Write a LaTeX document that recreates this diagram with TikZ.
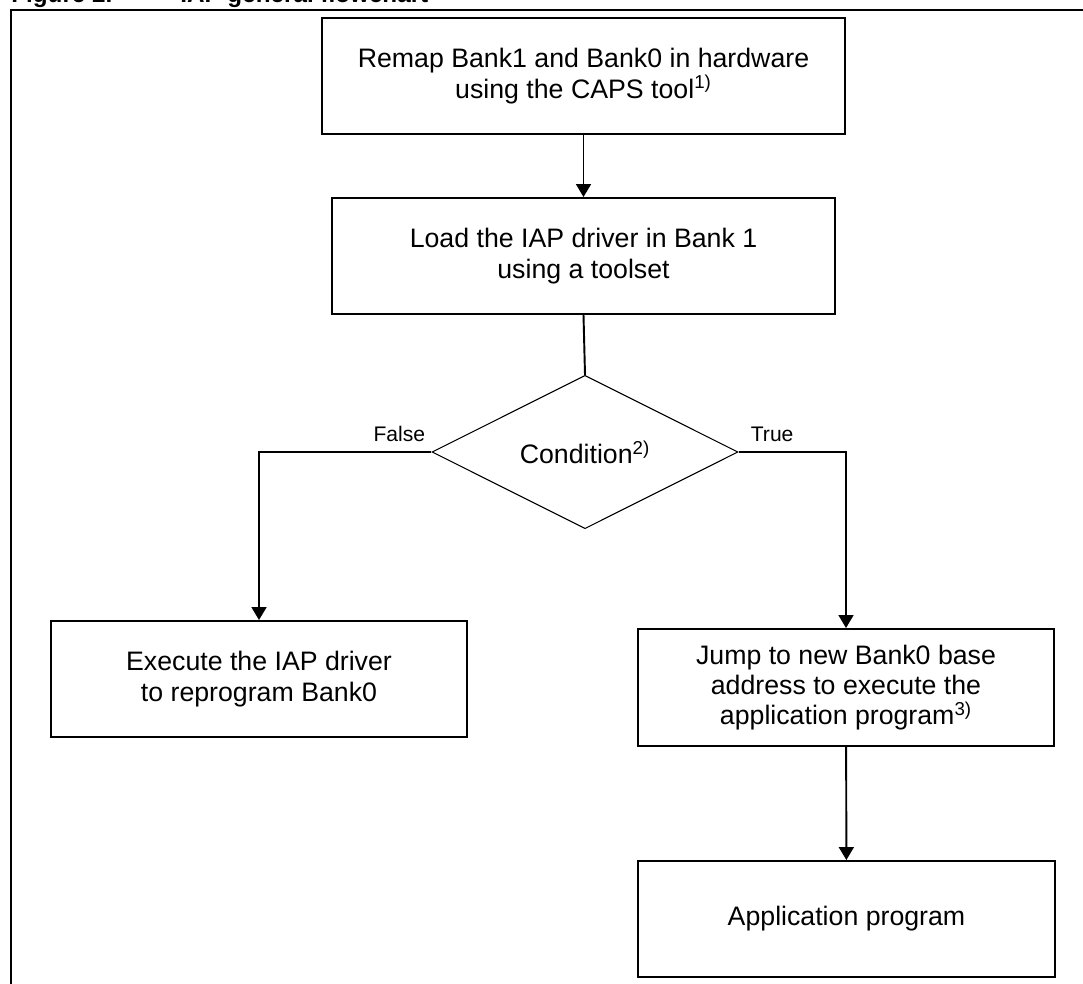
\documentclass[tikz,border=0pt]{standalone}
\usepackage{fontspec}
\setmainfont{Liberation Sans}
\usetikzlibrary{shapes.geometric,arrows.meta,calc}

\tikzset{
  stepbox/.style={draw, line width=1.1pt, rectangle, inner sep=0pt, align=center,
                  font=\fontsize{15.2}{17.3}\selectfont},
  decision/.style={draw, line width=0.6pt, diamond, inner sep=0pt,
                   font=\fontsize{15.2}{17.3}\selectfont},
  flow/.style={line width=1.1pt, -{Triangle[width=8.5pt,length=7.4pt]}},
  link/.style={line width=1.1pt},
  lbl/.style={inner sep=0pt, font=\fontsize{12}{14}\selectfont},
}

\begin{document}
\begin{tikzpicture}
  %\draw[help lines] (0,0) grid (22,-20);
  \useasboundingbox (0,0) rectangle (21.66,-19.66);
  \clip (0,0) rectangle (21.66,-19.66);

  %CAPTION (cut off at the top)
  \node[anchor=base west, inner sep=0pt, font=\fontsize{13.8}{16}\selectfont\bfseries] (fig) at (0.22,-0.06) {Figure 2.};
  \node[anchor=base west, inner sep=0pt, font=\fontsize{13.8}{16}\selectfont\bfseries] (title) at (3.60,-0.06) {IAP general flowchart};

  %FRAME
  \draw[line width=1.1pt] (0.22,-21) -- (0.22,-0.20) -- (23,-0.20);

  %STEPS
  \node[stepbox, minimum width=10.46cm, minimum height=2.32cm] (remap) at (11.67,-1.52)
       {Remap Bank1 and Bank0 in hardware\\using the CAPS tool\textsuperscript{1)}};
  \node[stepbox, minimum width=10.06cm, minimum height=2.32cm] (load) at (11.67,-5.12)
       {Load the IAP driver in Bank 1\\using a toolset};
  \node[decision, minimum width=6.12cm, minimum height=2.40cm] (cond) at (11.70,-9.04)
       {Condition\textsuperscript{2)}};
  \node[stepbox, minimum width=8.32cm, minimum height=2.32cm] (exec) at (5.18,-13.58)
       {Execute the IAP driver\\to reprogram Bank0};
  \node[stepbox, minimum width=8.32cm, minimum height=2.34cm] (jump) at (16.92,-13.75)
       {Jump to new Bank0 base\\address to execute the\\application program\textsuperscript{3)}};
  \node[stepbox, minimum width=8.34cm, minimum height=2.32cm] (app) at (16.93,-18.38)
       {Application program};

  %CONNECTORS
  \draw[flow] (remap) -- (load);
  \draw[link] (load.south) -- (cond.north);
  \draw[flow] (cond.west) -| (exec.north);
  \draw[flow] (cond.east) -| (jump.north);
  \draw[flow] (jump) -- (app);

  \node[lbl, anchor=base east] (false) at ($(cond.west)+(-0.12,0.22)$) {False};
  \node[lbl, anchor=base west] (true) at ($(cond.east)+(0.24,0.22)$) {True};
\end{tikzpicture}
\end{document}
